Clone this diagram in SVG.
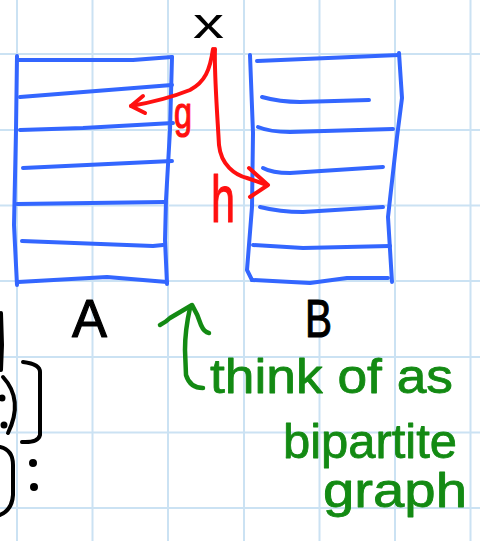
<svg xmlns="http://www.w3.org/2000/svg" width="480" height="541" viewBox="0 0 480 541">
<style>
.grid{stroke:#cbe2f3;stroke-width:2;fill:none}
.blue{stroke:#3366ff;stroke-width:4;fill:none;stroke-linecap:round;stroke-linejoin:round}
.red{stroke:#ff1010;stroke-width:4;fill:none;stroke-linecap:round;stroke-linejoin:round}
.green{stroke:#138a13;stroke-width:4.5;fill:none;stroke-linecap:round;stroke-linejoin:round}
.ink{stroke:#000;stroke-width:4;fill:none;stroke-linecap:round;stroke-linejoin:round}
.lbl{font-family:"Liberation Sans",Arial,sans-serif;stroke-width:1.2;stroke-linejoin:round}
.gtxt{font-family:"Liberation Sans",Arial,sans-serif;font-size:48px;fill:#138a13;stroke:#138a13;stroke-width:0.8;stroke-linejoin:round}
</style>
<rect width="480" height="541" fill="#ffffff"/>
<g id="grid" class="grid">
<path d="M17,0V541M92.5,0V541M168,0V541M244,0V541M319.5,0V541M395,0V541M470.5,0V541"/>
<path d="M0,54H480M0,130H480M0,205.5H480M0,281H480M0,357H480M0,432.5H480M0,508H480"/>
</g>
<g id="node-A">
<g class="blue">
<path d="M17,56 L16,130 L14,225 L17,285"/>
<path d="M172,57 L170,130 L166,200 L165,240 L167,284"/>
<path d="M18,60 L133,60 L172,57"/>
<path d="M20,97 L172,85"/>
<path d="M20,130 L83,128 L173,123"/>
<path d="M23,168 L172,161"/>
<path d="M17,204 L165,202"/>
<path d="M22,241 L153,246 L163,245"/>
<path d="M18,282 L107,277 L167,282"/>
</g>
<text class="lbl" x="72" y="337" font-size="54" textLength="35" lengthAdjust="spacingAndGlyphs" fill="#000" stroke="#000">A</text>
</g>
<g id="node-B">
<g class="blue">
<path d="M250,55 L253,133 L252,207 L247,270 L252,280"/>
<path d="M399,53 L402,98 L397,137 L388,217 L392,282"/>
<path d="M257,61 L399,55"/>
<path d="M262,97 Q280,102 300,102 L369,100"/>
<path d="M258,127 Q270,132 290,132 L393,129"/>
<path d="M263,168 Q272,173 290,173 L383,167"/>
<path d="M260,207 Q280,212 303,212 L383,207"/>
<path d="M253,245 L303,248 L390,246"/>
<path d="M252,280 L310,283 L347,278 L388,278"/>
</g>
<text class="lbl" x="305" y="337" font-size="54" textLength="27" lengthAdjust="spacingAndGlyphs" fill="#000" stroke="#000">B</text>
</g>
<g id="node-x">
<text class="lbl" x="193" y="38" font-size="42" textLength="31" lengthAdjust="spacingAndGlyphs" fill="#000">x</text>
</g>
<g id="connectors">
<g id="edge-g">
<path class="red" d="M213,49 C210,70 205,82 190,90 Q165,100 131,106"/>
<path class="red" d="M143,96 L131,106 L145,113"/>
<text class="lbl" x="174" y="128" font-size="44" textLength="18" lengthAdjust="spacingAndGlyphs" fill="#ff1010" stroke="#ff1010">g</text>
</g>
<g id="edge-h">
<path class="red" d="M215,49 C214,70 217,110 219,145 C221,165 235,175 247,178 L267,185"/>
<path class="red" d="M249,168 L268,185 L250,197"/>
<text class="lbl" x="211" y="222" font-size="66" textLength="24" lengthAdjust="spacingAndGlyphs" fill="#ff1010" stroke="#ff1010">h</text>
</g>
</g>
<g id="note">
<path class="green" d="M160,325 Q166,322 170,318 L192,305 Q198,315 201,325 Q204,332 209,333"/>
<path class="green" d="M190,308 Q185,330 185,350 L186,375 Q190,388 203,388"/>
<text class="gtxt" x="210" y="393" textLength="243" lengthAdjust="spacingAndGlyphs">think of as</text>
<text class="gtxt" x="283" y="458" textLength="174" lengthAdjust="spacingAndGlyphs">bipartite</text>
<text class="gtxt" x="323" y="507" textLength="144" lengthAdjust="spacingAndGlyphs">graph</text>
</g>
<g id="margin" class="ink">
<path d="M1,313 L2,345 L1,370"/>
<path d="M3,377 Q24,400 8,433"/>
<path d="M23,362 Q40,364 40,372 L40,435 Q38,443 22,442"/>
<path d="M0,447 Q13,450 13,465 L13,495 Q12,510 0,515"/>
<circle cx="2" cy="398" r="1.5" fill="#000"/>
<circle cx="4" cy="425" r="1.5" fill="#000"/>
<circle cx="33" cy="463" r="2" fill="#000"/>
<circle cx="34" cy="487" r="2" fill="#000"/>
</g>
</svg>
